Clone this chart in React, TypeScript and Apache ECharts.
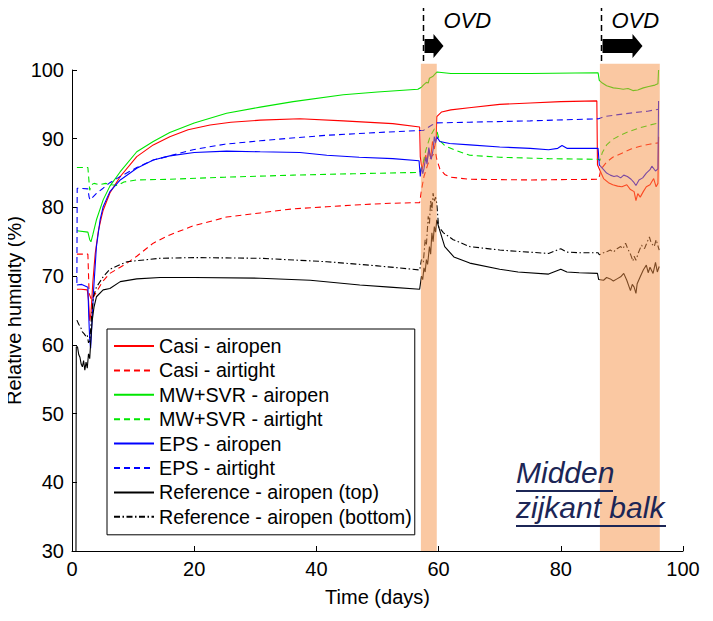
import React, { useEffect, useRef } from "react";
import * as echarts from "echarts";

const FONT = "'Liberation Sans', Arial, Helvetica, sans-serif";

const seriesNames = [
  "Casi - airopen",
  "Casi - airtight",
  "MW+SVR - airopen",
  "MW+SVR - airtight",
  "EPS - airopen",
  "EPS - airtight",
  "Reference - airopen (top)",
  "Reference - airopen (bottom)",
];

const casiAiropen: number[][] = [
  [0.8, 68.1], [1.5, 68.1], [2.5, 68.0], [2.7, 66.5], [2.9, 63.5], [3.1, 64.5], [3.4, 69], [3.8, 73.3], [4.3, 76.5], [4.8, 78.5], [5.1, 79.6], [6.2, 82.1], [7.9, 84.5], [10.6, 87.4], [13.3, 89.1], [16, 90.3], [19, 91.3], [22.6, 92.0], [26, 92.4], [30.8, 92.7], [37.3, 92.9], [44.4, 92.6], [52.5, 92.2], [56.9, 91.7],
  [57.0, 87.4], [57.3, 85.5], [57.6, 86.8], [57.9, 87.6], [58.1, 86.6], [58.4, 88.4], [58.7, 87.2], [59.0, 89.6], [59.3, 88.5], [59.6, 90.0], [59.7, 93.2], [60.5, 93.9], [62, 94.2], [65, 94.5], [70, 95.0], [75, 95.2], [80, 95.4], [85.9, 95.5],
  [86.0, 86.2], [86.6, 85.0], [87.0, 84.2], [87.8, 83.6], [88.5, 83.3], [89.3, 83.1], [90.0, 83.0], [90.8, 83.3], [91.4, 82.6], [92.0, 82.3], [92.3, 81.0], [92.6, 82.0], [93.0, 81.5], [93.5, 82.3], [94.0, 83.0], [94.6, 83.3], [95.2, 84.2], [95.6, 83.0], [95.9, 83.5], [96.0, 90.3],
];

const casiAirtight: number[][] = [
  [0.8, 73.2], [2.6, 73.2], [2.8, 67.5], [3.2, 66.5], [4.0, 67.7], [5, 69.2], [6.2, 70.4], [7.9, 71.3], [9, 71.9], [10.6, 72.9], [13.3, 74.8], [16, 76.0], [19.8, 77.3], [25.3, 78.6], [30.8, 79.2], [36.2, 79.8], [41.7, 80.1], [47.1, 80.4], [52, 80.6], [56.9, 80.7],
  [57.2, 82.5], [57.6, 84.5], [58.2, 86.2], [58.8, 87.4], [59.5, 88.0], [59.7, 87.0], [60.2, 85.6], [61, 84.8], [62, 84.4], [65, 84.1], [75, 84.0], [86.2, 84.1],
  [86.6, 85.6], [87.5, 86.6], [88.5, 87.3], [90, 87.9], [91.5, 88.5], [93, 88.9], [94.5, 89.2], [96.0, 89.4],
];

const mwAiropen: number[][] = [
  [0.8, 76.6], [2.6, 76.4], [2.9, 75.3], [3.1, 75.0], [3.4, 76.0], [4.0, 78.2], [5.1, 81.1], [6.2, 83.1], [7.9, 85.2], [10.6, 88.1], [13.3, 89.6], [16, 90.9], [20, 92.3], [25.3, 93.7], [30.8, 94.6], [36.2, 95.4], [44.4, 96.4], [50, 96.8], [56.6, 97.2],
  [57.2, 97.5], [57.5, 97.8], [58, 98.2], [58.3, 98.1], [58.5, 98.8], [59.1, 99.1], [59.7, 99.7], [62, 99.5], [65.1, 99.5], [75, 99.5], [86.1, 99.6],
  [86.3, 98.5], [86.8, 98.1], [87.5, 97.7], [88.6, 97.4], [89.5, 97.3], [90.2, 97.2], [91, 97.3], [91.8, 97.0], [92.6, 97.1], [93.5, 97.4], [94.4, 97.6], [95.4, 97.8], [95.9, 98.0], [96.0, 100.0],
];

const mwAirtight: number[][] = [
  [0.8, 85.8], [2.6, 85.8], [2.9, 82.5], [3.2, 83.3], [3.6, 83.5], [4.5, 83.3], [5.5, 83.5], [6.5, 83.3], [7.5, 83.2], [8.5, 83.7], [10.6, 84.0], [16, 84.1], [25, 84.4], [36.2, 84.7], [46, 84.9], [56.9, 85.1],
  [57.4, 86.2], [57.9, 88.3], [58.6, 90.3], [59.3, 91.4], [59.7, 91.2], [60.1, 89.8], [61, 89.0], [62.5, 88.4], [65.1, 87.6], [70, 87.3], [78, 87.1], [86.2, 87.0],
  [86.4, 86.8], [86.8, 88.0], [87.5, 89.1], [88.5, 89.9], [89.7, 90.5], [91.3, 91.1], [93, 91.6], [94.6, 92.0], [96, 92.3],
];

const epsAiropen: number[][] = [
  [0.8, 68.7], [1.6, 68.8], [2.6, 68.4], [2.75, 64], [2.9, 60.7], [3.05, 59.5], [3.2, 62], [3.5, 67.5], [4.0, 74.3], [4.6, 78.2], [5.1, 80.1], [6.2, 82.3], [7.9, 84.0], [10.6, 85.7], [13.3, 86.9], [16, 87.5], [20, 88.0], [25.3, 88.2], [30.8, 88.1], [37.3, 88.0], [41.7, 87.6], [47, 87.3], [52.5, 87.1], [56.8, 86.8],
  [57.0, 84.5], [57.2, 85.9], [57.4, 84.9], [57.6, 85.6], [57.9, 87.3], [58.1, 86.3], [58.4, 88.7], [58.6, 87.6], [58.8, 87.0], [59.1, 88.4], [59.3, 90.3], [59.5, 89.4], [59.7, 90.3], [60.2, 89.6], [61.8, 89.3], [65.1, 89.1], [70, 88.8], [75, 88.6], [78, 88.4], [79.5, 88.6], [80.2, 89.0], [81, 88.6], [83, 88.6], [86.1, 88.6],
  [86.3, 86.2], [87.0, 85.5], [87.5, 85.0], [88.1, 84.7], [88.7, 84.5], [89.2, 84.6], [89.8, 84.3], [90.3, 84.7], [90.9, 84.5], [91.5, 84.1], [92.0, 83.6], [92.3, 83.2], [92.8, 84.0], [93.4, 84.3], [94.0, 85.0], [94.6, 85.5], [94.9, 86.0], [95.5, 85.3], [95.9, 85.6], [96.0, 95.5],
];

const epsAirtight: number[][] = [
  [0.8, 69.0], [0.85, 82.8], [2.6, 82.7], [2.8, 81.5], [2.95, 81.1], [3.3, 81.4], [4.0, 82.05], [5.1, 82.8], [6.2, 83.6], [7.9, 84.5], [10.6, 85.8], [13.3, 86.9], [16, 87.5], [19.8, 88.4], [25, 89.2], [30.8, 89.7], [36, 90.1], [41.7, 90.5], [50, 90.9], [56.9, 91.2],
  [57.5, 91.2], [58.2, 91.6], [58.9, 92.0], [59.7, 92.3], [65, 92.4], [75, 92.6], [86.2, 92.9],
  [87.0, 93.2], [88.5, 93.4], [90.3, 93.6], [92, 93.8], [94.2, 94.0], [96.0, 94.3],
];

const refTop: number[][] = [
  [0.65, 30], [0.7, 59.7], [0.9, 59.7], [1.1, 58.6], [1.3, 58.2], [1.5, 57.2], [1.7, 56.8], [1.9, 57.7], [2.1, 56.3], [2.3, 57.5], [2.5, 56.6], [2.7, 58.7], [2.9, 58], [3.1, 61], [3.3, 63.5], [3.6, 65.5], [4.0, 67.0], [5.1, 68.0], [6.2, 68.2], [7.9, 69.2], [10.6, 69.6], [14.4, 69.8], [20, 69.8], [30.8, 69.7], [39, 69.4], [47.1, 68.7], [52, 68.4], [56.9, 68.1],
  [57.2, 70.0], [57.4, 69.5], [57.6, 71.2], [57.8, 70.6], [58.0, 72.4], [58.2, 71.7], [58.5, 74.3], [58.7, 73.2], [58.9, 76.3], [59.1, 75.0], [59.3, 77.2], [59.5, 76.4], [59.7, 78.2], [60.0, 77.2], [61, 74.3], [62.5, 72.8], [65.1, 71.9], [70, 71.0], [73, 70.6], [78, 70.3], [80, 71.0], [81, 70.6], [83, 70.5], [86.0, 70.4],
  [86.2, 69.5], [87.0, 69.4], [87.5, 69.8], [88.1, 69.6], [88.6, 69.3], [89.2, 69.6], [89.8, 69.9], [90.3, 70.4], [90.8, 69.4], [91.4, 67.9], [91.7, 68.8], [92.0, 68.4], [92.3, 67.5], [92.5, 68.9], [93.0, 69.9], [93.5, 70.9], [94.0, 71.6], [94.3, 70.5], [94.6, 71.3], [95.1, 70.4], [95.5, 72.0], [95.8, 70.6], [96.1, 71.4],
];

const refBottom: number[][] = [
  [0.8, 63.6], [1.1, 63.0], [1.4, 62.6], [1.7, 61.9], [2.0, 61.6], [2.3, 61.2], [2.5, 61.4], [2.7, 60.3], [2.9, 60.6], [3.2, 64], [3.5, 67.0], [4.0, 68.4], [5.1, 69.9], [6.2, 71.0], [7.9, 71.7], [9, 72.1], [14.4, 72.6], [20, 72.7], [30.8, 72.6], [41.7, 72.1], [50, 71.5], [56.9, 70.9],
  [57.2, 72.4], [57.5, 72.0], [57.8, 75.3], [58.0, 74.5], [58.3, 78.7], [58.5, 77.5], [58.7, 81.1], [58.9, 79.5], [59.1, 82.1], [59.3, 80.8], [59.5, 81.5], [59.7, 80.6], [60.0, 77.2], [60.8, 76.3], [62.4, 75.3], [65.1, 74.3], [70, 73.8], [73, 73.6], [78, 73.3], [80, 74.0], [81, 73.5], [83, 73.4], [86.1, 73.4],
  [86.3, 73.1], [87.0, 73.4], [87.6, 73.6], [88.1, 73.8], [88.6, 73.5], [89.2, 74.0], [89.8, 74.3], [90.2, 74.0], [90.6, 74.8], [91.0, 73.9], [91.4, 73.2], [91.8, 72.2], [92.0, 72.9], [92.3, 72.3], [92.7, 73.4], [93.2, 74.5], [93.7, 74.0], [94.2, 75.1], [94.5, 75.7], [94.8, 74.8], [95.3, 74.3], [95.6, 75.3], [96.1, 73.8],
];

const seriesData = [casiAiropen, casiAirtight, mwAiropen, mwAirtight, epsAiropen, epsAirtight, refTop, refBottom];
const seriesColors = ["#ff0000", "#ff0000", "#00e600", "#00e600", "#0000ff", "#0000ff", "#000000", "#000000"];
const seriesDash: (string | number[])[] = ["solid", [6, 4], "solid", [6, 4], "solid", [6, 4], "solid", [6, 2.5, 1.5, 2.5]];

// OVD periods (days) and shading top (humidity %)
const ovdPeriods: number[][] = [[57.1, 59.7], [86.4, 96.2]];
const ovdMarkers: number[] = [57.5, 86.5];
const ovdArrowLengths: number[] = [19, 40];
const shadeTop = 100.9;

const xTicks = { min: 0, max: 100, interval: 20 };
const yTicks = { min: 30, max: 100, interval: 10 };

export default function App() {
  const ref = useRef<HTMLDivElement>(null);
  useEffect(() => {
    if (!ref.current) return;
    const chart = echarts.init(ref.current, undefined, { renderer: "svg" });
    chart.setOption({
      animation: false,
      backgroundColor: "#fff",
      grid: { left: 72, right: 30, top: 70, bottom: 70, containLabel: false, outerBoundsMode: "none" },
      xAxis: {
        type: "value",
        ...xTicks,
        name: "Time (days)",
        nameLocation: "middle",
        nameGap: 36,
        nameMoveOverlap: false,
        nameTextStyle: { color: "#000", fontSize: 20, fontFamily: FONT },
        axisLine: { show: true, onZero: false, lineStyle: { color: "#000", width: 1 } },
        axisTick: { show: true, inside: true, length: 5, lineStyle: { color: "#000" } },
        axisLabel: { color: "#000", fontSize: 20, margin: 8, fontFamily: FONT },
        splitLine: { show: false },
      },
      yAxis: {
        type: "value",
        ...yTicks,
        name: "Relative humidity (%)",
        nameLocation: "middle",
        nameGap: 48,
        nameMoveOverlap: false,
        nameTextStyle: { color: "#000", fontSize: 20, fontFamily: FONT },
        axisLine: { show: true, onZero: false, lineStyle: { color: "#000", width: 1 } },
        axisTick: { show: true, inside: true, length: 5, lineStyle: { color: "#000" } },
        axisLabel: { color: "#000", fontSize: 20, margin: 8, fontFamily: FONT },
        splitLine: { show: false },
      },
      legend: {
        orient: "vertical",
        left: 107,
        top: 329,
        padding: [7, 3, 8, 6],
        itemWidth: 40,
        itemHeight: 14,
        itemGap: 4.4,
        borderColor: "#000",
        borderWidth: 1,
        borderRadius: 0,
        backgroundColor: "#fff",
        itemStyle: { color: "rgba(0,0,0,0)", borderWidth: 0, opacity: 0 },
        textStyle: { color: "#000", fontSize: 19.7, lineHeight: 20, fontFamily: FONT },
        data: seriesNames,
      },
      series: seriesNames.map((name, i) => ({
        name,
        type: "line",
        data: seriesData[i],
        showSymbol: false,
        symbol: "none",
        color: seriesColors[i],
        lineStyle: { color: seriesColors[i], width: 1.1, type: seriesDash[i] },
        z: 2,
      })),
    });

    const px = (x: number, y: number) => chart.convertToPixel({ xAxisIndex: 0, yAxisIndex: 0 }, [x, y]) as number[];
    const graphics: any[] = [];
    ovdPeriods.forEach(([a, b]) => {
      const p1 = px(a, shadeTop);
      const p2 = px(b, yTicks.min);
      graphics.push({
        type: "rect",
        z: 10,
        shape: { x: p1[0], y: p1[1], width: p2[0] - p1[0], height: p2[1] - p1[1] },
        style: { fill: "rgba(245,145,70,0.5)" },
        silent: true,
      });
    });
    ovdMarkers.forEach((d, i) => {
      const p = px(d, shadeTop);
      const x0 = Math.round(p[0]) + 0.5;
      graphics.push({
        type: "line",
        z: 11,
        shape: { x1: x0, y1: 5, x2: x0, y2: p[1] },
        style: { stroke: "#000", lineWidth: 1.5, lineDash: [6, 4] },
      });
      const len = ovdArrowLengths[i];
      const head = 10;
      const bx = x0 + 1;
      graphics.push({
        type: "polygon",
        z: 11,
        shape: {
          points: [
            [bx, 39], [bx + len - head, 39], [bx + len - head, 34], [bx + len, 46],
            [bx + len - head, 58], [bx + len - head, 53], [bx, 53],
          ],
        },
        style: { fill: "#000" },
      });
      graphics.push({
        type: "text",
        z: 11,
        x: i === 0 ? bx + len : x0 + 10,
        y: 9,
        style: { text: "OVD", fontSize: 22, fontStyle: "italic", fontFamily: FONT, fill: "#000", textVerticalAlign: "top" },
      });
    });
    const navy = "#1c2656";
    graphics.push(
      { type: "text", z: 20, x: 516, y: 457, style: { text: "Midden", fontSize: 30, fontStyle: "italic", fontFamily: FONT, fill: navy, textVerticalAlign: "top" } },
      { type: "text", z: 20, x: 516, y: 492, style: { text: "zijkant balk", fontSize: 30, fontStyle: "italic", fontFamily: FONT, fill: navy, textVerticalAlign: "top" } },
      { type: "line", z: 20, shape: { x1: 516, y1: 491, x2: 613, y2: 491 }, style: { stroke: navy, lineWidth: 2 } },
      { type: "line", z: 20, shape: { x1: 516, y1: 526, x2: 666, y2: 526 }, style: { stroke: navy, lineWidth: 2 } }
    );
    chart.setOption({ graphic: graphics });

    return () => chart.dispose();
  }, []);
  return <div ref={ref} style={{ width: 713, height: 621, margin: -8 }} />;
}
